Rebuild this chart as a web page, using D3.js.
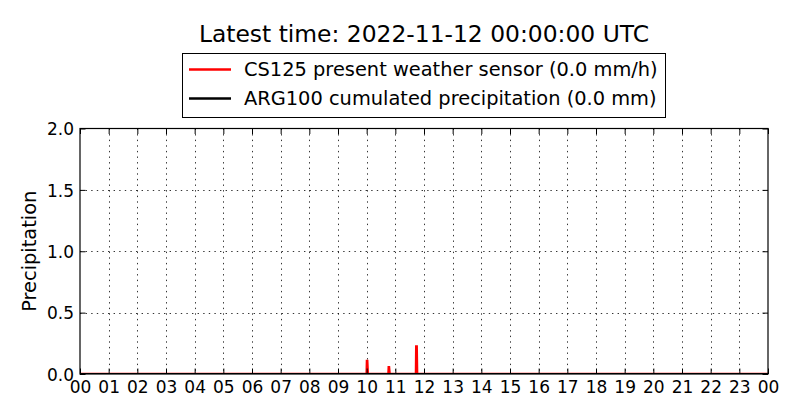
<!DOCTYPE html>
<html>
<head>
<meta charset="utf-8">
<script src="https://cdn.jsdelivr.net/npm/d3@7"></script>
<style>
  body { margin: 0; background: #fff; }
  svg { display: block; font-family: "DejaVu Sans", sans-serif; }
</style>
</head>
<body>
<svg width="800" height="420"></svg>
<script>
// data, hours after 2022-11-12 00:00 UTC
var cs125Hours = [0, 10.0, 10.01, 10.02, 10.04, 10.76, 10.77, 10.78, 10.8, 11.72, 11.73, 11.745, 11.76, 24];
var cs125Values = [0, 0, 0.105, 0.105, 0, 0, 0.055, 0.055, 0, 0, 0.225, 0.225, 0, 0];
var arg100Hours = [0, 24];
var arg100Values = [0, 0];
var hourLabels = ["00", "01", "02", "03", "04", "05", "06", "07", "08", "09", "10", "11",
  "12", "13", "14", "15", "16", "17", "18", "19", "20", "21", "22", "23", "00"];
var yTicks = [0, 0.5, 1.0, 1.5, 2.0];
var legendLabels = ["CS125 present weather sensor (0.0 mm/h)", "ARG100 cumulated precipitation (0.0 mm)"];
var legendColors = ["#ff0000", "#000000"];

var svg = d3.select("svg"),
    plotLeft = 80, plotRight = 768, plotTop = 128.5, plotBottom = 374;

var x = d3.scaleLinear().domain([0, 24]).range([plotLeft, plotRight]);
var y = d3.scaleLinear().domain([0, 2]).range([plotBottom, plotTop]);

// dotted grid
var grid = svg.append("g").attr("stroke", "#000").attr("stroke-width", 0.8)
    .attr("stroke-dasharray", "1.4,4.2");
grid.selectAll(".gx").data(d3.range(1, 24)).enter().append("line")
    .attr("x1", function (d) { return Math.round(x(d)) + 0.5; })
    .attr("x2", function (d) { return Math.round(x(d)) + 0.5; })
    .attr("y1", plotTop).attr("y2", plotBottom);
grid.selectAll(".gy").data(yTicks.slice(1, 4)).enter().append("line")
    .attr("y1", function (d) { return Math.round(y(d)) + 0.5; })
    .attr("y2", function (d) { return Math.round(y(d)) + 0.5; })
    .attr("x1", plotLeft).attr("x2", plotRight);

svg.append("clipPath").attr("id", "plot").append("rect")
    .attr("x", plotLeft).attr("y", plotTop)
    .attr("width", plotRight - plotLeft).attr("height", plotBottom - plotTop);

var line = d3.line()
    .x(function (d) { return x(d[0]); })
    .y(function (d) { return y(d[1]); });

var plot = svg.append("g").attr("clip-path", "url(#plot)");
plot.append("path")
    .datum(d3.zip(cs125Hours, cs125Values))
    .attr("fill", "none").attr("stroke", "#ff0000").attr("stroke-width", 2.5)
    .attr("d", line);
plot.append("path")
    .datum(d3.zip(arg100Hours, arg100Values))
    .attr("fill", "none").attr("stroke", "#000").attr("stroke-width", 2)
    .attr("d", line);

// frame
svg.append("rect").attr("x", plotLeft).attr("y", plotTop)
    .attr("width", plotRight - plotLeft).attr("height", plotBottom - plotTop)
    .attr("fill", "none").attr("stroke", "#000").attr("stroke-width", 1.2);

// inward ticks on all sides
function styleAxis(g) {
    g.select(".domain").remove();
    g.attr("font-size", "17px").attr("font-family", "DejaVu Sans");
    g.selectAll(".tick line").attr("stroke", "#000").attr("stroke-width", 1);
    g.selectAll("text").attr("fill", "#000");
}
svg.append("g").attr("transform", "translate(0," + plotBottom + ")")
    .call(d3.axisBottom(x).tickValues(d3.range(0, 25)).tickSizeInner(-5.5).tickSizeOuter(0)
        .tickFormat(function (d, i) { return hourLabels[i]; }))
    .call(styleAxis)
    .call(function (g) { g.selectAll("text").attr("dy", 0).attr("y", 19); });
svg.append("g").attr("transform", "translate(0," + plotTop + ")")
    .call(d3.axisTop(x).tickValues(d3.range(0, 25)).tickSizeInner(-5.5).tickSizeOuter(0).tickFormat(""))
    .call(styleAxis);
svg.append("g").attr("transform", "translate(" + plotLeft + ",0)")
    .call(d3.axisLeft(y).tickValues(yTicks).tickSizeInner(-5.5).tickSizeOuter(0).tickFormat(d3.format(".1f")))
    .call(styleAxis)
    .call(function (g) { g.selectAll("text").attr("x", -6).attr("dy", "0.36em"); });
svg.append("g").attr("transform", "translate(" + plotRight + ",0)")
    .call(d3.axisRight(y).tickValues(yTicks).tickSizeInner(-5.5).tickSizeOuter(0).tickFormat(""))
    .call(styleAxis);

svg.append("text")
    .attr("transform", "translate(35.5," + (plotTop + plotBottom) / 2 + ") rotate(-90)")
    .attr("text-anchor", "middle").attr("font-size", "19.4px").text("Precipitation");

// title
svg.append("text").attr("x", (plotLeft + plotRight) / 2).attr("y", 42)
    .attr("text-anchor", "middle").attr("font-size", "23.4px")
    .text("Latest time: 2022-11-12 00:00:00 UTC");

// legend
var legend = svg.append("g");
legend.append("rect").attr("x", 182.5).attr("y", 53.5).attr("width", 483).attr("height", 64)
    .attr("fill", "#fff").attr("stroke", "#000").attr("stroke-width", 1);
var item = legend.selectAll(".item").data(legendLabels).enter().append("g")
    .attr("transform", function (d, i) { return "translate(0," + (69.5 + i * 29) + ")"; });
item.append("line").attr("x1", 189).attr("x2", 231)
    .attr("stroke", function (d, i) { return legendColors[i]; }).attr("stroke-width", 2.5);
item.append("text").attr("x", 244).attr("dy", "0.36em").attr("font-size", "19.4px")
    .text(function (d) { return d; });
</script>
</body>
</html>
